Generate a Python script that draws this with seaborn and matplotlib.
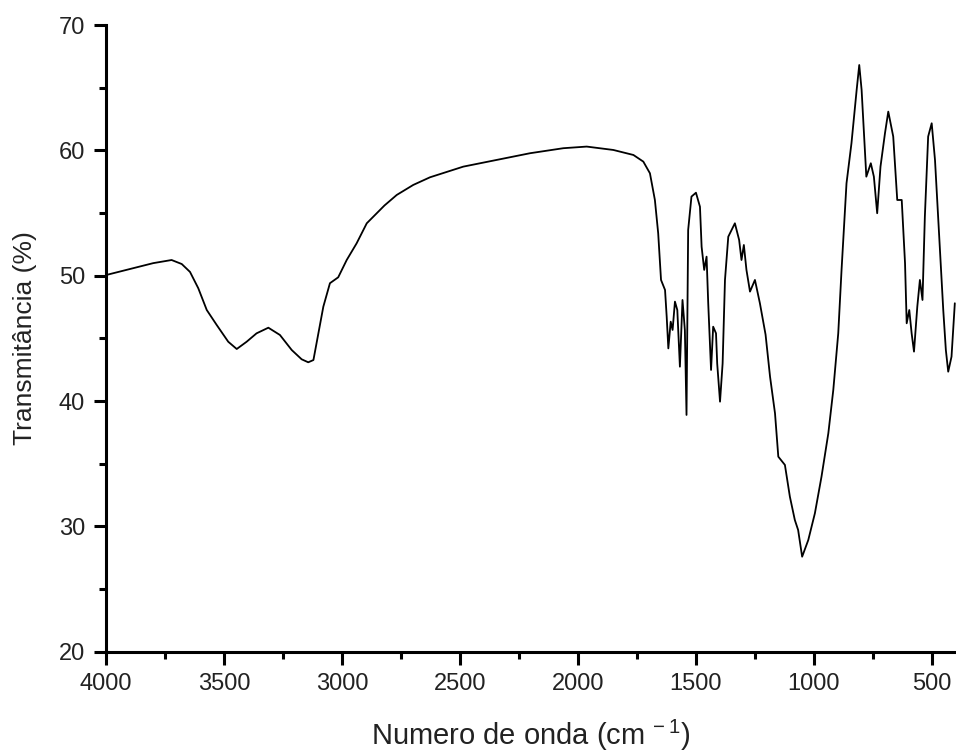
import matplotlib
matplotlib.use("Agg")
import matplotlib.pyplot as plt
from matplotlib.ticker import MultipleLocator
import seaborn as sns
import pandas as pd

wavenumber = [4000, 3884, 3800, 3722, 3679, 3644, 3609, 3573, 3531, 3482, 3446, 3404,
              3362, 3312, 3263, 3213, 3171, 3143, 3121, 3100, 3079, 3051, 3016, 2980,
              2938, 2895, 2853, 2820, 2768, 2698, 2627, 2486, 2345, 2203, 2062, 1963,
              1850, 1765, 1723, 1695, 1674, 1660, 1648, 1631, 1624, 1617, 1607, 1599,
              1589, 1579, 1568, 1557, 1547, 1540, 1533, 1519, 1500, 1483, 1476, 1465,
              1455, 1448, 1436, 1427, 1415, 1410, 1398, 1387, 1377, 1363, 1335, 1317,
              1307, 1297, 1286, 1271, 1250, 1229, 1205, 1186, 1165, 1151, 1123, 1102,
              1081, 1067, 1050, 1024, 996, 968, 939, 918, 897, 883, 862, 841, 819, 808,
              798, 788, 778, 759, 746, 732, 718, 699, 685, 664, 647, 628, 614, 607, 596,
              586, 576, 562, 551, 540, 530, 516, 501, 487, 466, 452, 441, 431, 417, 403]
transmittance = [50.05, 50.6, 51.0, 51.25, 50.93, 50.3, 49.0, 47.26, 46.07, 44.73, 44.15, 44.73,
                 45.4, 45.85, 45.27, 44.07, 43.33, 43.09, 43.27, 45.4, 47.53, 49.4, 49.87, 51.25,
                 52.58, 54.18, 54.98, 55.6, 56.44, 57.24, 57.85, 58.7, 59.23, 59.77, 60.17, 60.3,
                 60.03, 59.63, 59.1, 58.17, 56.04, 53.38, 49.66, 48.86, 46.73, 44.2, 46.33, 45.67,
                 47.93, 47.26, 42.74, 48.06, 45.67, 38.89, 53.65, 56.31, 56.62, 55.5, 52.31, 50.46,
                 51.52, 47.8, 42.48, 45.93, 45.4, 43.0, 39.95, 43.0, 49.66, 53.11, 54.18, 52.85,
                 51.25, 52.45, 50.46, 48.73, 49.66, 47.8, 45.3, 41.94, 39.02, 35.56, 34.9, 32.37,
                 30.51, 29.71, 27.58, 28.91, 31.04, 33.96, 37.43, 40.88, 45.4, 50.46, 57.37, 60.56, 64.82, 66.81,
                 64.82, 61.36, 57.9, 58.97, 57.9, 54.98, 58.7, 61.36, 63.09, 61.1, 56.04, 56.04, 51.0, 46.2, 47.26,
                 45.4, 43.94, 47.53, 49.66, 48.06, 54.7, 61.1, 62.16, 59.23, 52.05, 47.26, 44.07, 42.34, 43.54, 47.8]

x_label = r"Numero de onda (cm$^{\,-1}$)"
y_label = "Transmitância (%)"

sns.set_style("ticks")
plt.rcParams["font.family"] = ["Liberation Sans", "DejaVu Sans"]
plt.rcParams["mathtext.default"] = "regular"

df = pd.DataFrame({"wn": wavenumber, "T": transmittance})

fig = plt.figure(figsize=(9.56, 7.55), dpi=100)
ax = fig.add_axes([106 / 956, 1 - 651.7 / 755, 1 - 106 / 956, (651.7 - 25) / 755])
sns.lineplot(data=df, x="wn", y="T", ax=ax, color="black", linewidth=1.3, sort=False)

ax.set_xlim(4000, 398)
ax.set_ylim(20, 70)
ax.xaxis.set_major_locator(MultipleLocator(500))
ax.xaxis.set_minor_locator(MultipleLocator(250))
ax.yaxis.set_major_locator(MultipleLocator(10))
ax.yaxis.set_minor_locator(MultipleLocator(5))

for s in ["top", "right"]:
    ax.spines[s].set_visible(False)
for s in ["left", "bottom"]:
    ax.spines[s].set_linewidth(2.2)
    ax.spines[s].set_color("black")

ax.tick_params(which="major", direction="out", length=9, width=2.2, colors="black",
               labelsize=17, labelcolor="#222222", pad=6)
ax.tick_params(which="minor", direction="out", length=5, width=2.2, colors="black")

ax.set_xlabel(x_label, fontsize=21, labelpad=17, color="#222222")
ax.set_ylabel(y_label, fontsize=19, labelpad=16, color="#222222")

fig.savefig("out.png", dpi=100)
